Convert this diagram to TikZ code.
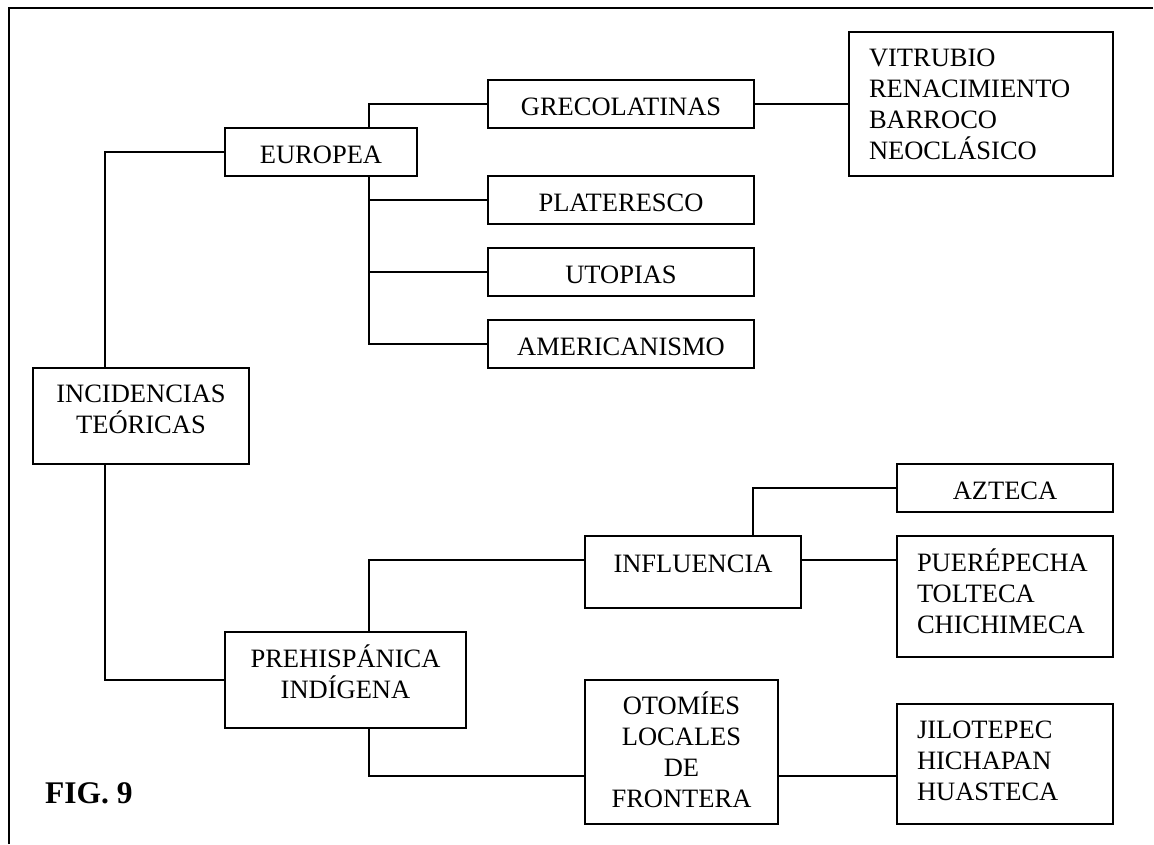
\documentclass[tikz,border=0pt]{standalone}
\usepackage{fontspec}
\setmainfont{Liberation Serif}
\usetikzlibrary{calc}

% centred block of lines; #1 = twice the height of the text centre above the last baseline
\newcommand{\cblk}[2]{\raisebox{0pt}[#1][0pt]{\vbox{\baselineskip=31pt\lineskiplimit=-\maxdimen
  \halign{\hfil##\hfil\cr#2\crcr}}}}
% left-aligned block filling a box of width #1, with a 20pt left margin
\newcommand{\lblk}[3]{\hbox to #1{\hskip20pt\raisebox{0pt}[#2][0pt]{\vbox{\baselineskip=31pt\lineskiplimit=-\maxdimen
  \halign{##\hfil\cr#3\crcr}}}\hfil}}

\tikzset{
  box/.style={draw, line width=1.7pt, inner sep=0pt, rectangle,
    font=\fontsize{26.5pt}{31pt}\selectfont},
  conn/.style={line width=1.7pt},
}

\begin{document}
\begin{tikzpicture}[x=1pt, y=-1pt]
  \useasboundingbox (0,0) rectangle (1154,844);

  % outer frame (top and left edges)
  \draw[conn] (9,844) -- (9,8) -- (1153,8);

  % boxes
  \node[box, minimum width=216pt, minimum height=96pt]  (incid)  at (141,416)   {\cblk{35.6pt}{INCIDENCIAS\cr TEÓRICAS}};
  \node[box, minimum width=192pt, minimum height=48pt]  (europea) at (321,152)  {\cblk{22pt}{EUROPEA}};
  \node[box, minimum width=266pt, minimum height=48pt]  (greco)  at (621,104)   {\cblk{22pt}{GRECOLATINAS}};
  \node[box, minimum width=264pt, minimum height=144pt] (vitru)  at (981,104)   {\lblk{264pt}{110pt}{VITRUBIO\cr RENACIMIENTO\cr BARROCO\cr NEOCLÁSICO}};
  \node[box, minimum width=266pt, minimum height=48pt]  (plater) at (621,200)   {\cblk{22pt}{PLATERESCO}};
  \node[box, minimum width=266pt, minimum height=48pt]  (utop)   at (621,272)   {\cblk{22pt}{UTOPIAS}};
  \node[box, minimum width=266pt, minimum height=48pt]  (americ) at (621,344)   {\cblk{22pt}{AMERICANISMO}};
  \node[box, minimum width=241pt, minimum height=96pt]  (prehis) at (345.5,680) {\cblk{36pt}{PREHISPÁNICA\cr INDÍGENA}};
  \node[box, minimum width=216pt, minimum height=72pt]  (influ)  at (693,572)   {\cblk{0pt}{INFLUENCIA}};
  \node[box, minimum width=216pt, minimum height=48pt]  (azteca) at (1005,488)  {\cblk{22pt}{AZTECA}};
  \node[box, minimum width=216pt, minimum height=121pt] (puere)  at (1005,596.5) {\lblk{216pt}{73pt}{PUERÉPECHA\cr TOLTECA\cr CHICHIMECA}};
  \node[box, minimum width=193pt, minimum height=144pt] (otomi)  at (681.5,752) {\cblk{110.6pt}{OTOMÍES\cr LOCALES\cr DE\cr FRONTERA}};
  \node[box, minimum width=216pt, minimum height=120pt] (jilo)   at (1005,764)  {\lblk{216pt}{73pt}{JILOTEPEC\cr HICHAPAN\cr HUASTECA}};

  \node[anchor=base west, inner sep=0pt, font=\fontsize{31.5pt}{36pt}\selectfont\bfseries] (fig) at (45,803) {FIG. 9};

  % vertical spines of the tree
  \coordinate (sA) at (105,0);
  \coordinate (sB) at (369,0);
  \coordinate (sC) at (753,0);

  % connectors
  \draw[conn] (europea.west) -| (incid.north -| sA);
  \draw[conn] (incid.south -| sA) |- (prehis.west);
  \draw[conn] (europea.north -| sB) |- (greco.west);
  \draw[conn] (europea.south -| sB) |- (americ.west);
  \draw[conn] (plater.west -| sB) -- (plater.west);
  \draw[conn] (utop.west -| sB) -- (utop.west);
  \draw[conn] (greco.east) -- (vitru.west);
  \draw[conn] (prehis.north -| sB) |- ([yshift=12pt]influ.west);
  \draw[conn] (prehis.south -| sB) |- ([yshift=-24pt]otomi.west);
  \draw[conn] (influ.north -| sC) |- (azteca.west);
  \draw[conn] ([yshift=12pt]influ.east) -- ([yshift=12pt]influ.east -| puere.west);
  \draw[conn] ([yshift=-24pt]otomi.east) -- ([yshift=-24pt]otomi.east -| jilo.west);
\end{tikzpicture}
\end{document}
